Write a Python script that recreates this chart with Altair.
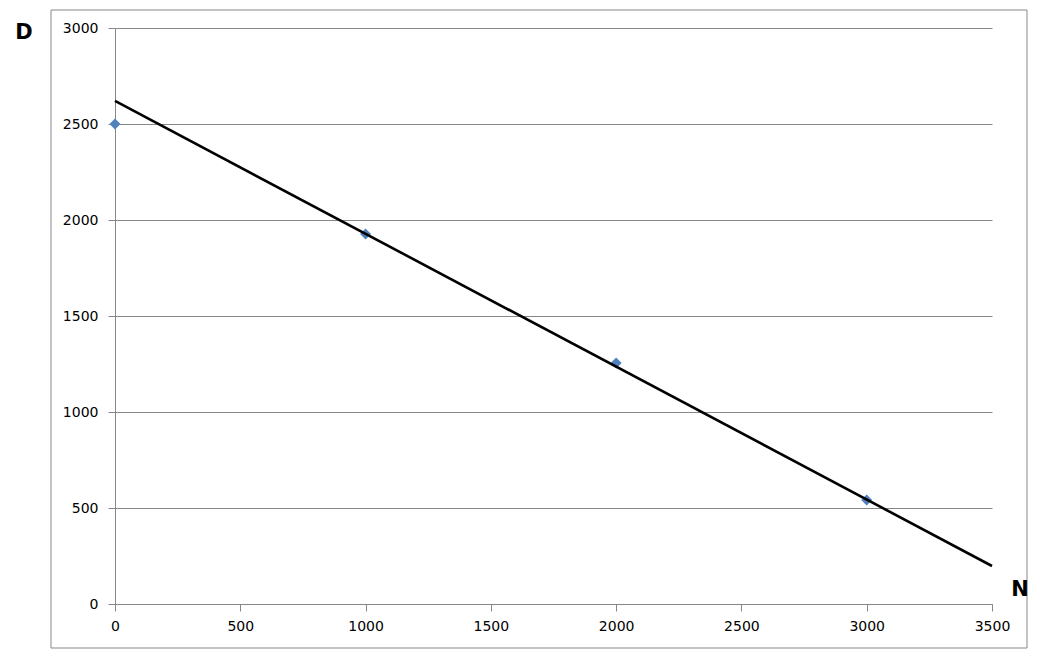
import altair as alt
import pandas as pd

# Observed data points
n_values = [0, 1000, 2000, 3000]
d_values = [2500, 1927, 1255, 542]

# Trendline end points
trend_n = [0, 3500]
trend_d = [2620, 198]

x_ticks = [0, 500, 1000, 1500, 2000, 2500, 3000, 3500]
y_ticks = [0, 500, 1000, 1500, 2000, 2500, 3000]

pts = pd.DataFrame({"N": n_values, "D": d_values})
trend = pd.DataFrame({"N": trend_n, "D": trend_d})

GRAY = "#878787"
FONT = "DejaVu Sans"

xs = alt.Scale(domain=[0, 3500], nice=False, zero=False)
ys = alt.Scale(domain=[0, 3000], nice=False, zero=False)

common = dict(title=None, format="d", domainColor=GRAY, tickColor=GRAY, gridColor=GRAY,
              tickSize=7, labelColor="black", labelFontSize=14, labelFont=FONT, labelFlush=False)
x_axis = alt.Axis(values=x_ticks, grid=False, labelPadding=8, **common)
y_axis = alt.Axis(values=y_ticks, grid=True, labelPadding=10, **common)

border = alt.Chart(pd.DataFrame({"a": [0]})).mark_rect(
    fill=None, stroke=GRAY, strokeWidth=1, clip=False
).encode(x=alt.value(-64), x2=alt.value(912), y=alt.value(-18), y2=alt.value(620))

points = alt.Chart(pts).mark_point(shape="diamond", filled=True, color="#4F81BD", size=120, opacity=1).encode(
    x=alt.X("N:Q", scale=xs, axis=x_axis),
    y=alt.Y("D:Q", scale=ys, axis=y_axis),
)

line = alt.Chart(trend).mark_line(color="black", strokeWidth=2.6).encode(
    x=alt.X("N:Q", scale=xs, axis=x_axis),
    y=alt.Y("D:Q", scale=ys, axis=y_axis),
)

lab_d = alt.Chart(pd.DataFrame({"t": ["D"]})).mark_text(
    text="D", fontSize=21, fontWeight="bold", font=FONT, align="center", baseline="middle", color="black"
).encode(x=alt.value(-91), y=alt.value(5))

lab_n = alt.Chart(pd.DataFrame({"t": ["N"]})).mark_text(
    text="N", fontSize=21, fontWeight="bold", font=FONT, align="center", baseline="middle", color="black"
).encode(x=alt.value(905), y=alt.value(562))

chart = alt.layer(border, points, line, lab_d, lab_n).properties(
    width=877, height=576,
    background="white",
    autosize=alt.AutoSizeParams(type="none"),
    padding={"left": 107, "top": 20, "right": 54, "bottom": 45},
).configure_view(stroke=None)

chart.save("out.html", embed_options={"renderer": "svg", "actions": False})
